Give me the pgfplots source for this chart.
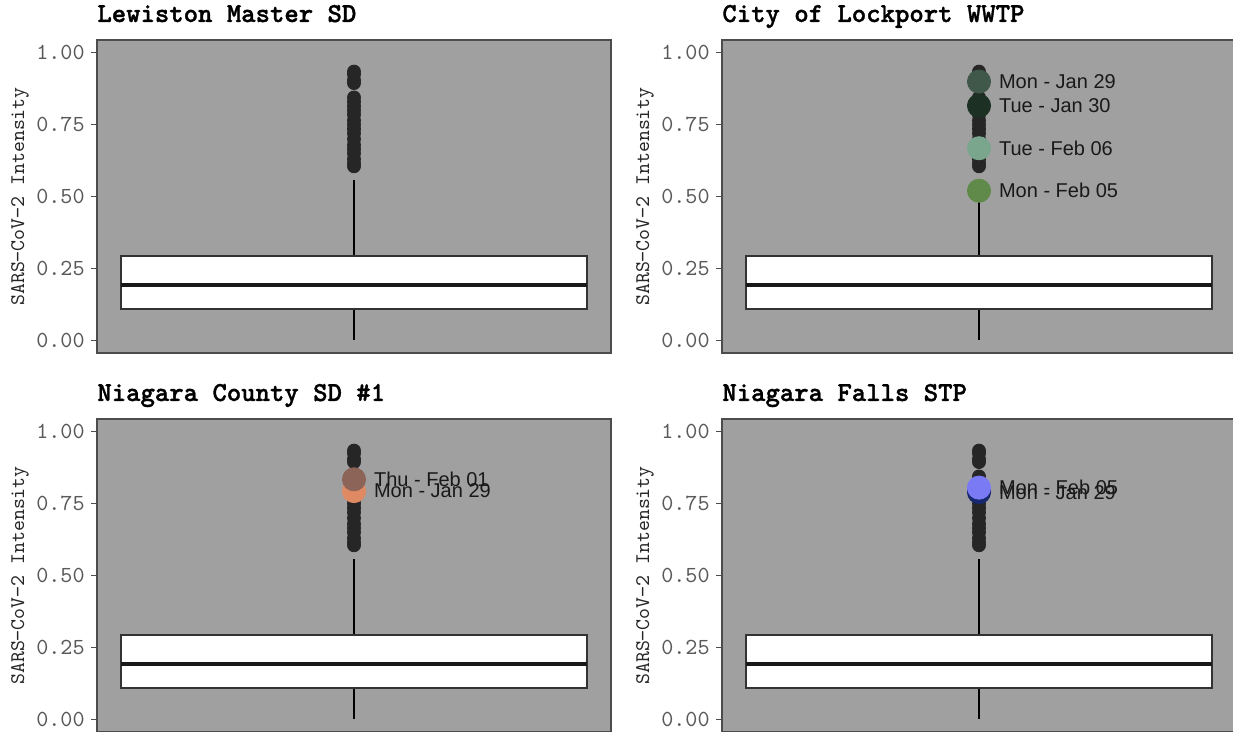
\documentclass[border=0pt]{standalone}
\usepackage{fontspec}
\setmainfont{Liberation Mono}
\setsansfont{Liberation Sans}
\newfontfamily\lmtt{lmmono10-regular.otf}
\newfontfamily\lmttbf{lmmonolt10-bold.otf}[FakeBold=1.3]
\usepackage{pgfplots}
\usepackage{pgfplotstable}
\pgfplotsset{compat=1.18}
\usepgfplotslibrary{statistics}

\definecolor{panelbg}{HTML}{A0A0A0}
\definecolor{dotc}{HTML}{262626}
\definecolor{lockA}{HTML}{3F5849}
\definecolor{lockB}{HTML}{1C3024}
\definecolor{lockC}{HTML}{7AA68E}
\definecolor{lockD}{HTML}{608A4A}
\definecolor{ncA}{HTML}{8C6458}
\definecolor{ncB}{HTML}{E08A64}
\definecolor{nfA}{HTML}{7A7AF5}
\definecolor{nfB}{HTML}{18286E}

\pgfplotstableread{
x y
0.5 0.935
0.5 0.925
0.5 0.905
0.5 0.895
0.5 0.845
0.5 0.830
0.5 0.815
0.5 0.800
0.5 0.785
0.5 0.765
0.5 0.750
0.5 0.735
0.5 0.720
0.5 0.700
0.5 0.680
0.5 0.665
0.5 0.650
0.5 0.630
0.5 0.615
0.5 0.605
}\outliers

\pgfplotsset{
  panel/.style={
    scale only axis, width=257pt, height=156.5pt,
    anchor=south west,
    xmin=0, xmax=1, ymin=-0.045, ymax=1.045,
    axis background/.style={fill=panelbg},
    axis line style={draw=black!70, line width=0.6pt},
    xtick=\empty,
    ytick={0,0.25,0.5,0.75,1},
    ytick pos=left,
    /pgf/number format/fixed,
    /pgf/number format/fixed zerofill,
    /pgf/number format/precision=2,
    /pgf/number format/assume math mode=true,
    tick align=outside, major tick length=3pt,
    tick style={draw=black!70, line width=0.5pt},
    yticklabel style={font=\lmtt\fontsize{11.5}{13}\selectfont, text=black!65, inner sep=1pt, xshift=-2pt},
    ylabel={SARS−CoV−2 Intensity},
    ylabel style={at={(axis description cs:-0.15,0.5)}, anchor=center, font=\lmtt\fontsize{10.4}{12}\selectfont, text=black!85},
    title style={at={(axis description cs:0,1)}, anchor=base west, yshift=3pt, inner sep=0pt, font=\lmttbf\fontsize{13.7}{15}\selectfont},
    clip=false,
  },
  bx/.style={boxplot/draw direction=y,
    boxplot prepared={lower whisker=0, lower quartile=0.108, median=0.192, upper quartile=0.293, upper whisker=0.557, draw position=0.5, box extend=0.907, whisker extend=0},
    draw=black!80, line width=1.3pt, fill=white,
    boxplot/every median/.style={draw=black!90, line width=2.2pt},
    boxplot/every whisker/.style={draw=black, line width=0.75pt}},
  outl/.style={only marks, mark=*, mark size=3.25pt, color=dotc, mark options={draw=dotc, fill=dotc}},
  hl/.style 2 args={only marks, mark=*, mark size=5.8pt, color=#1, mark options={draw=#1, fill=#1},
    nodes near coords={#2},
    every node near coord/.append style={anchor=west, xshift=6.5pt, font=\sffamily\fontsize{10}{12}\selectfont, text=black!90}},
}

\begin{document}
\begin{tikzpicture}
\begin{axis}[panel, at={(48.5pt,189.5pt)}, title={Lewiston Master SD}]
\addplot[bx] coordinates {};
\addplot[outl] table[x=x,y=y] {\outliers};
\end{axis}

\begin{axis}[panel, at={(361pt,189.5pt)}, title={City of Lockport WWTP}]
\addplot[bx] coordinates {};
\addplot[outl] table[x=x,y=y] {\outliers};
\addplot[hl={lockA}{Mon - Jan 29}] coordinates {(0.5,0.900)};
\addplot[hl={lockB}{Tue - Jan 30}] coordinates {(0.5,0.816)};
\addplot[hl={lockC}{Tue - Feb 06}] coordinates {(0.5,0.668)};
\addplot[hl={lockD}{Mon - Feb 05}] coordinates {(0.5,0.520)};
\end{axis}

\begin{axis}[panel, at={(48.5pt,0pt)}, title={Niagara County SD \#1}]
\addplot[bx] coordinates {};
\addplot[outl] table[x=x,y=y] {\outliers};
\addplot[hl={ncB}{Mon - Jan 29}] coordinates {(0.5,0.794)};
\addplot[hl={ncA}{Thu - Feb 01}] coordinates {(0.5,0.835)};
\end{axis}

\begin{axis}[panel, at={(361pt,0pt)}, title={Niagara Falls STP}]
\addplot[bx] coordinates {};
\addplot[outl] table[x=x,y=y] {\outliers};
\addplot[hl={nfB}{Mon - Jan 29}] coordinates {(0.5,0.790)};
\addplot[hl={nfA}{Mon - Feb 05}] coordinates {(0.5,0.806)};
\end{axis}
\pgfresetboundingbox
\path[use as bounding box] (0,0) rectangle (616.5pt,366pt);
\end{tikzpicture}
\end{document}
